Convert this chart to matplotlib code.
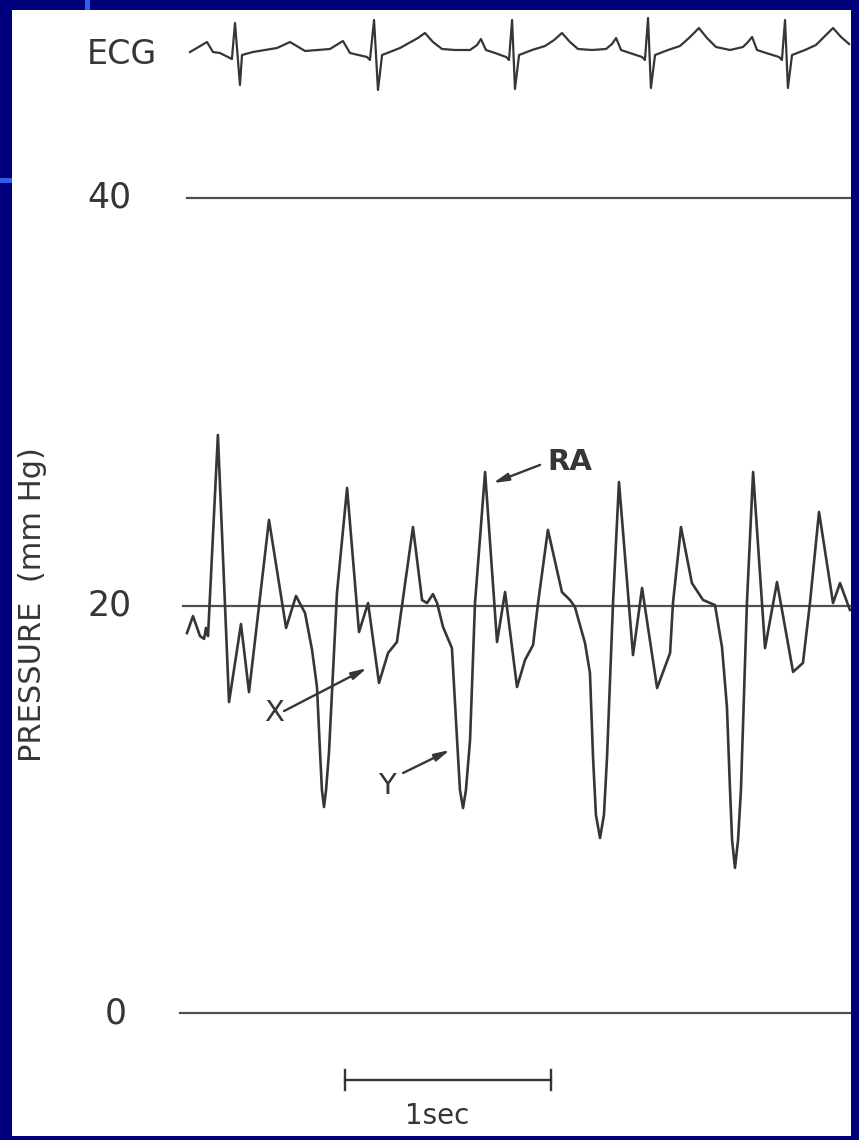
import matplotlib
matplotlib.use("Agg")
import matplotlib.pyplot as plt
from matplotlib.patches import Rectangle

# right atrial pressure trace (time in s, pressure in mmHg)
ra_time = [0.034, 0.063, 0.097, 0.117, 0.126, 0.136, 0.184, 0.238, 0.296, 0.335,
           0.432, 0.515, 0.563, 0.607, 0.641, 0.665, 0.680, 0.689, 0.699, 0.709,
           0.723, 0.762, 0.811, 0.869,
           0.913, 0.966, 1.010, 1.053, 1.078, 1.131, 1.175, 1.199, 1.228, 1.248,
           1.277, 1.320, 1.345, 1.359, 1.374, 1.388, 1.408, 1.432, 1.481, 1.539,
           1.578, 1.636, 1.675, 1.714,
           1.738, 1.786, 1.854, 1.893, 1.917, 1.966, 1.990, 2.005, 2.019, 2.039,
           2.058, 2.073, 2.102, 2.131,
           2.199, 2.243, 2.316, 2.379, 2.393, 2.432, 2.485, 2.539, 2.597, 2.631,
           2.655, 2.670, 2.680, 2.694, 2.709, 2.723, 2.752, 2.782, 2.840, 2.898,
           2.976, 3.024, 3.058, 3.102, 3.170, 3.204, 3.252]
ra_pressure = [18.65, 19.48, 18.50, 18.36, 18.90, 18.50, 28.37, 15.26, 19.09, 15.75,
               24.20, 18.90, 20.47, 19.63, 17.82, 16.00, 12.76, 10.94, 10.11, 10.94,
               12.76, 20.61, 25.77, 18.70,
               20.12, 16.20, 17.67, 18.21, 20.02, 23.85, 20.27, 20.12, 20.56, 20.12,
               18.94, 17.91, 13.40, 10.94, 10.06, 10.94, 13.40, 20.12, 26.55, 18.21,
               20.66, 16.00, 17.33, 18.06,
               20.12, 23.71, 20.66, 20.27, 19.93, 18.16, 16.69, 12.56, 9.72, 8.59,
               9.72, 12.56, 20.12, 26.06,
               17.57, 20.86, 15.95, 17.67, 20.12, 23.85, 21.10, 20.27, 20.02, 17.96,
               15.02, 10.94, 8.49, 7.12, 8.49, 10.94, 20.12, 26.55, 17.91, 21.15,
               16.74, 17.18, 20.12, 24.59, 20.12, 21.10, 19.78]

# ECG (time in s, arbitrary mV)
ecg_time = [0.049, 0.131, 0.160, 0.194, 0.252, 0.267, 0.291, 0.301, 0.354, 0.471,
            0.534, 0.607, 0.728, 0.791, 0.825, 0.908, 0.922, 0.942, 0.961, 0.981,
            1.068, 1.155, 1.189, 1.228, 1.272, 1.335, 1.408, 1.442, 1.461, 1.485,
            1.529, 1.583, 1.597, 1.612, 1.626, 1.646, 1.709, 1.772, 1.816, 1.854,
            1.893, 1.932, 2.000, 2.068, 2.097, 2.117, 2.141, 2.184, 2.243, 2.257,
            2.272, 2.286, 2.306, 2.369, 2.427, 2.476, 2.519, 2.558, 2.602, 2.670,
            2.733, 2.757, 2.777, 2.801, 2.845, 2.908, 2.922, 2.937, 2.951, 2.971,
            3.034, 3.087, 3.131, 3.170, 3.209, 3.248]
ecg_mv = [-0.05, 0.20, -0.05, -0.075, -0.225, 0.675, -0.875, -0.125, -0.05, 0.05,
          0.20, -0.025, 0.025, 0.225, -0.075, -0.175, -0.25, 0.75, -1.0, -0.125,
          0.05, 0.30, 0.425, 0.20, 0.025, 0.0, 0.0, 0.125, 0.275, 0.0,
          -0.075, -0.175, -0.25, 0.75, -0.975, -0.125, 0.0, 0.10, 0.25, 0.425,
          0.20, 0.025, 0.0, 0.025, 0.15, 0.30, 0.0, -0.075, -0.175, -0.25,
          0.80, -0.95, -0.125, 0.0, 0.10, 0.325, 0.55, 0.30, 0.075, 0.0,
          0.075, 0.20, 0.325, 0.0, -0.075, -0.175, -0.25, 0.75, -0.95, -0.125,
          0.0, 0.125, 0.35, 0.55, 0.325, 0.15]

ref_levels = [40, 20, 0]
ref_labels = ["40", "20", "0"]
ref_start = [0.034, 0.015, 0.0]

# annotations: label, text position, arrow start, arrow tip
labels = ["X", "Y", "RA"]
label_pos = [(0.456, 14.72), (1.005, 11.14), (1.893, 27.04)]
arrow_from = [(0.505, 14.82), (1.083, 11.78), (1.748, 26.90)]
arrow_to = [(0.908, 16.93), (1.311, 12.91), (1.519, 26.01)]

scale_start, scale_len, scale_y = 0.80, 1.0, -3.3

t_max = 3.2524
ink = "#363636"
navy = "#00007c"

fig = plt.figure(figsize=(8.59, 11.40), dpi=100, facecolor=navy)
fig.patches.append(Rectangle((12/859, 4/1140), 839/859, 1126/1140, transform=fig.transFigure,
                             facecolor="white", edgecolor="none", zorder=-2))
# template decorations
fig.patches.append(Rectangle((85/859, 1130/1140), 5/859, 10/1140, transform=fig.transFigure,
                             facecolor="#2f5fe8", edgecolor="none", zorder=-1))
fig.patches.append(Rectangle((0, 957/1140), 12/859, 5/1140, transform=fig.transFigure,
                             facecolor="#2f5fe8", edgecolor="none", zorder=-1))

ax = fig.add_axes([180/859, 127/1140, 670/859, 815/1140])
ax.set_facecolor("none")
ax.set_xlim(0, t_max)
ax.set_ylim(0, 40)
ax.set_axis_off()

for lvl, lab, x0 in zip(ref_levels, ref_labels, ref_start):
    ax.plot([x0, t_max], [lvl, lvl], color="#505050", lw=1.6, clip_on=False, zorder=2)
    xl = -0.112 if len(lab) == 1 else -0.1388
    ax.text(xl, lvl, lab, transform=ax.get_yaxis_transform(), ha="left", va="center",
            fontsize=25, color=ink)

ax.plot(ra_time, ra_pressure, color=ink, lw=1.9, solid_joinstyle="round", clip_on=False, zorder=3)

for lab, pos, a0, a1 in zip(labels, label_pos, arrow_from, arrow_to):
    ax.text(pos[0], pos[1], lab, ha="center", va="center", fontsize=21, color=ink,
            fontweight="bold" if lab == "RA" else "normal")
    ax.annotate("", xy=a1, xytext=a0,
                arrowprops=dict(arrowstyle="-|>,head_length=0.9,head_width=0.22",
                                color=ink, lw=1.7, shrinkA=0, shrinkB=0))

# 1 sec scale bar
ax.plot([scale_start, scale_start + scale_len], [scale_y, scale_y], color=ink, lw=1.7, clip_on=False)
ax.plot([scale_start, scale_start], [scale_y - 0.5, scale_y + 0.5], color=ink, lw=1.7, clip_on=False)
ax.plot([scale_start + scale_len] * 2, [scale_y - 0.5, scale_y + 0.5], color=ink, lw=1.7, clip_on=False)
ax.text(scale_start + 0.45, scale_y - 1.75, "1sec", ha="center", va="center", fontsize=20, color=ink)

fig.text(33/859, 1 - 605/1140, "PRESSURE  (mm Hg)", rotation=90, ha="center", va="center",
         fontsize=22, color=ink)

ax_ecg = fig.add_axes([180/859, 1040/1140, 670/859, 90/1140], sharex=ax)
ax_ecg.set_facecolor("none")
ax_ecg.set_ylim(-1.25, 1.0)
ax_ecg.set_axis_off()
ax_ecg.plot(ecg_time, ecg_mv, color=ink, lw=1.6, solid_joinstyle="round", clip_on=False)
ax_ecg.text(-0.1388, -0.125, "ECG", transform=ax_ecg.get_yaxis_transform(), ha="left", va="center",
            fontsize=24, color=ink)

fig.savefig("out.png", dpi=100, facecolor=fig.get_facecolor())
